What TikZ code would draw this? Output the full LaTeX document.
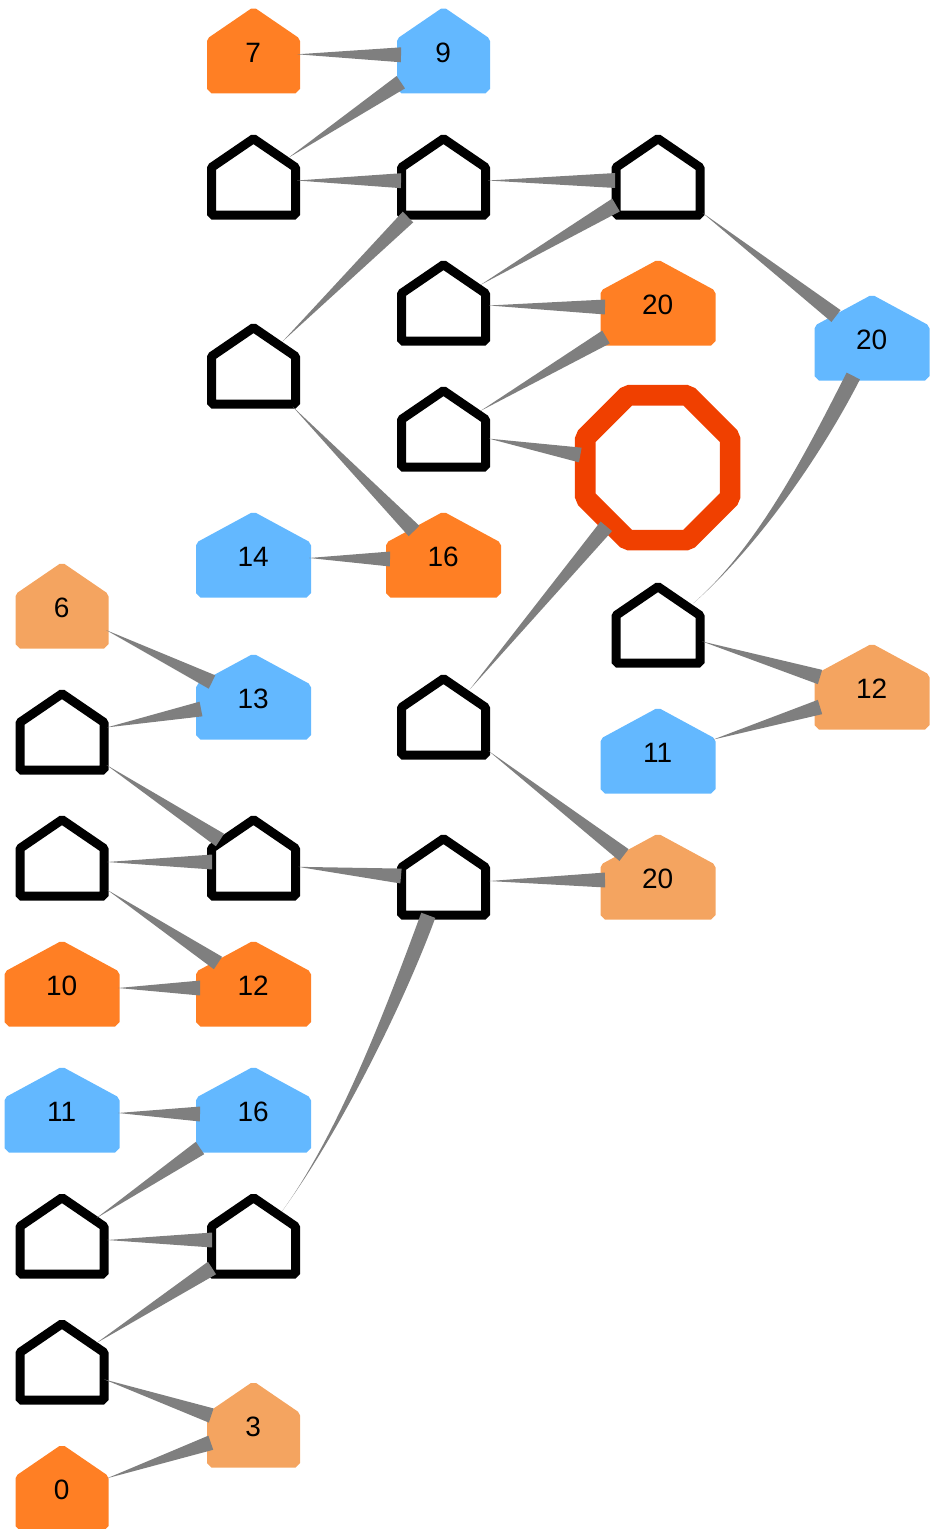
\documentclass[tikz,border=0pt]{standalone}
\usepackage{fontspec}
\setmainfont{Liberation Sans}
\usetikzlibrary{calc}
\definecolor{hOrange}{HTML}{FF7F24}
\definecolor{hBlue}{HTML}{63B8FF}
\definecolor{hSandy}{HTML}{F4A460}
\definecolor{hRed}{HTML}{F04000}
\definecolor{hEdge}{HTML}{7F7F7F}
\tikzset{
  housebody/.style={line width=6.75pt,line join=bevel},
  blackhouse/.style={housebody,draw=black,fill=white},
  orangehouse/.style={housebody,draw=hOrange,fill=hOrange},
  bluehouse/.style={housebody,draw=hBlue,fill=hBlue},
  sandyhouse/.style={housebody,draw=hSandy,fill=hSandy},
  houselabel/.style={inner sep=0pt,font=\fontsize{21}{21}\selectfont,text=black,text height=17.5pt,text depth=0pt},
  taperfill/.style={fill=hEdge,draw=none}
}
% name, cx, cy, half width of the outline, style, label
\newcommand{\housenode}[6]{%
  \draw[#5,shift={(#2,#3)}] (-#4,-9.9) -- (0,-38.6) -- (#4,-9.9) -- (#4,37.8) -- (-#4,37.8) -- cycle;
  \node[houselabel] (#1) at (#2,#3) {\kern-0.5pt #6};
}
% from node, tail offset, to node, head offset
\newcommand{\taperedge}[4]{%
  \coordinate (ts) at ($(#1)+(#2)$);
  \coordinate (te) at ($(#3)+(#4)$);
  \coordinate (tx) at ($(ts)!-1.5pt!(te)$);
  \fill[taperfill] (tx) -- ($(te)!5.6pt!90:(ts)$) -- ($(te)!5.6pt!-90:(ts)$) -- cycle;
}
% from node, tail offset, to node, head offset, tail control, head control
\newcommand{\curveedge}[6]{%
  \coordinate (ts) at ($(#1)+(#2)$);
  \coordinate (te) at ($(#3)+(#4)$);
  \coordinate (tc) at ($(ts)+(#5)$);
  \coordinate (td) at ($(te)+(#6)$);
  \coordinate (tp) at ($(te)!5.6pt!90:(td)$);
  \coordinate (tq) at ($(te)!5.6pt!-90:(td)$);
  \fill[taperfill] (ts) .. controls (tc) and ($(td)+(tp)-(te)$) .. (tp) -- (tq) .. controls ($(td)+(tq)-(te)$) and (tc) .. (ts) -- cycle;
}
\begin{document}
\begin{tikzpicture}[x=0.75pt,y=-0.75pt]
\useasboundingbox (0,0) rectangle (938,1529);
\housenode{n7}{253.5}{51}{42}{orangehouse}{7}
\housenode{n9}{443.5}{51}{42}{bluehouse}{9}
\housenode{A}{253.5}{177.3}{42}{blackhouse}{}
\housenode{B}{443.5}{177.3}{42}{blackhouse}{}
\housenode{C}{658}{177.3}{42}{blackhouse}{}
\housenode{D}{443.5}{303.3}{42}{blackhouse}{}
\housenode{oa}{658}{303.3}{53}{orangehouse}{20}
\housenode{E}{253.5}{366.3}{42}{blackhouse}{}
\housenode{F}{443.5}{429.3}{42}{blackhouse}{}
\housenode{ba}{872}{338.3}{53}{bluehouse}{20}
\housenode{bf}{253.5}{555.3}{53}{bluehouse}{14}
\housenode{ob}{443.5}{555.3}{53}{orangehouse}{16}
\housenode{sf}{62}{606.3}{42}{sandyhouse}{6}
\housenode{G}{658}{625.3}{42}{blackhouse}{}
\housenode{bt}{253.5}{697.3}{53}{bluehouse}{13}
\housenode{st}{872}{687.3}{53}{sandyhouse}{12}
\housenode{H}{443.5}{717.3}{42}{blackhouse}{}
\housenode{I}{62}{732.3}{42}{blackhouse}{}
\housenode{be}{658}{751.3}{53}{bluehouse}{11}
\housenode{J}{62}{858.3}{42}{blackhouse}{}
\housenode{K}{253.5}{858.3}{42}{blackhouse}{}
\housenode{sa}{658}{877.3}{53}{sandyhouse}{20}
\housenode{L}{443.5}{877.3}{42}{blackhouse}{}
\housenode{oc}{62}{984.3}{53}{orangehouse}{10}
\housenode{od}{253.5}{984.3}{53}{orangehouse}{12}
\housenode{bc}{62}{1110.3}{53}{bluehouse}{11}
\housenode{bd}{253.5}{1110.3}{53}{bluehouse}{16}
\housenode{M}{62}{1236.3}{42}{blackhouse}{}
\housenode{N}{253.5}{1236.3}{42}{blackhouse}{}
\housenode{O}{62}{1362.3}{42}{blackhouse}{}
\housenode{sb}{253.5}{1425.3}{42}{sandyhouse}{3}
\housenode{oz}{62}{1488.3}{42}{orangehouse}{0}
% octagon
\draw[line width=15.5pt,line join=bevel,draw=hRed,fill=white,shift={(657.7,467.7)}]
  (-30,-72.4) -- (30,-72.4) -- (72.4,-30) -- (72.4,30) -- (30,72.4) -- (-30,72.4) -- (-72.4,30) -- (-72.4,-30) -- cycle;
\node[inner sep=0pt,minimum size=110pt] (oct) at (657.7,467.7) {};
% connectors
\taperedge{n7}{45.8,3.3}{n9}{-42.5,3.8}
\taperedge{A}{36.5,-20.6}{n9}{-42.7,31.2}
\taperedge{A}{45.5,3.2}{B}{-42.5,3.4}
\taperedge{B}{46.5,3.2}{C}{-43,3.2}
\taperedge{D}{38.5,-19.3}{C}{-42,27.7}
\taperedge{E}{30.5,-26.3}{B}{-35.5,39.7}
\taperedge{C}{46,36.7}{ba}{-36,-22.3}
\taperedge{D}{47.5,2.2}{oa}{-53,3.7}
\taperedge{F}{38.5,-19.3}{oa}{-52,33.7}
\taperedge{F}{47.5,9.7}{oct}{-77.4,-12.7}
\taperedge{H}{27.5,-29.3}{oct}{-51.4,58.6}
\taperedge{E}{40.5,41.7}{ob}{-29.5,-24.3}
\taperedge{bf}{57.5,2.7}{ob}{-53.5,3.7}
\curveedge{G}{35.3,-22}{ba}{-18.7,37.7}{67.5,-59.4}{-36.4,71.2}
\taperedge{G}{46,16.7}{st}{-52,-10.3}
\taperedge{be}{57,-12.3}{st}{-52,19.7}
\taperedge{sf}{46,24.7}{bt}{-41.5,-15.3}
\taperedge{I}{47,-5.3}{bt}{-52.5,11.7}
\taperedge{I}{46,33.7}{K}{-33.5,-18.3}
\taperedge{J}{47,3.7}{K}{-41.5,3.7}
\taperedge{K}{46.5,8.7}{L}{-42.5,-1.3}
\taperedge{J}{47,32.7}{od}{-35.5,-21.3}
\taperedge{oc}{58,3.7}{od}{-53.5,3.7}
\taperedge{L}{47.5,3.7}{sa}{-53,2.7}
\taperedge{H}{46.5,34.7}{sa}{-34,-22.3}
\curveedge{N}{28.2,-24.6}{L}{-15.2,38}{59,-81}{-32.4,87.6}
\taperedge{bc}{58,2.7}{bd}{-53.5,3.7}
\taperedge{M}{36,-19.3}{bd}{-53.5,37.7}
\taperedge{M}{47,3.7}{N}{-41.5,3.7}
\taperedge{O}{36,-20.3}{N}{-41.5,31.7}
\taperedge{O}{44,17.7}{sb}{-42.3,-9.8}
\taperedge{oz}{47,-10.7}{sb}{-42.7,17.4}
\end{tikzpicture}
\end{document}
